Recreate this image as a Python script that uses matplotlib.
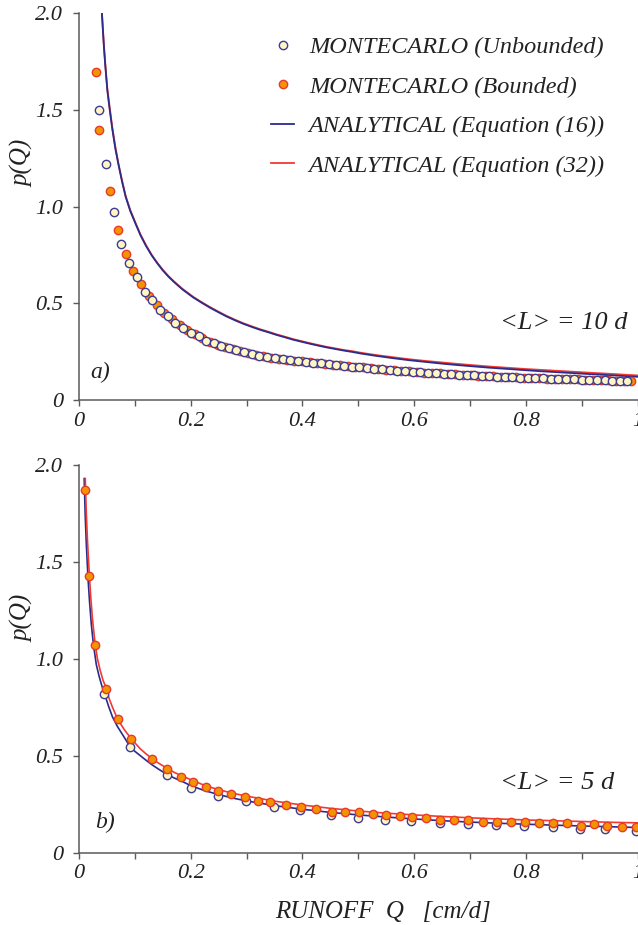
import numpy as np
import matplotlib
matplotlib.use("Agg")
import matplotlib.pyplot as plt

plt.rcParams['font.family'] = ['Liberation Serif', 'DejaVu Serif']
plt.rcParams['font.style'] = 'italic'

# --- panel a) <L> = 10 d ---
qa_unb = [0.035, 0.049, 0.063, 0.076, 0.090, 0.104, 0.118, 0.131, 0.145, 0.159,
          0.172, 0.186, 0.200, 0.214, 0.227, 0.241, 0.255, 0.268, 0.282, 0.296,
          0.310, 0.323, 0.337, 0.351, 0.365, 0.378, 0.392, 0.406, 0.419, 0.433,
          0.447, 0.461, 0.474, 0.488, 0.502, 0.515, 0.529, 0.543, 0.557, 0.570,
          0.584, 0.598, 0.611, 0.625, 0.639, 0.653, 0.666, 0.680, 0.694, 0.707,
          0.721, 0.735, 0.749, 0.762, 0.776, 0.790, 0.804, 0.817, 0.831, 0.845,
          0.858, 0.872, 0.886, 0.900, 0.913, 0.927, 0.941, 0.954, 0.968, 0.982]
pa_unb = [1.50, 1.22, 0.97, 0.805, 0.708, 0.636, 0.558, 0.515, 0.467, 0.436,
          0.400, 0.374, 0.348, 0.331, 0.305, 0.293, 0.277, 0.267, 0.256, 0.246,
          0.238, 0.229, 0.222, 0.215, 0.210, 0.206, 0.202, 0.197, 0.193, 0.189,
          0.185, 0.181, 0.177, 0.173, 0.169, 0.166, 0.162, 0.158, 0.155, 0.152,
          0.149, 0.146, 0.143, 0.141, 0.138, 0.136, 0.133, 0.131, 0.129, 0.127,
          0.125, 0.123, 0.121, 0.119, 0.118, 0.116, 0.115, 0.113, 0.112, 0.110,
          0.109, 0.108, 0.106, 0.105, 0.104, 0.103, 0.102, 0.100, 0.099, 0.098]

qa_bnd = [0.030, 0.0364, 0.056, 0.070, 0.084, 0.097, 0.111, 0.125, 0.139, 0.152,
          0.166, 0.180, 0.193, 0.207, 0.221, 0.234, 0.248, 0.262, 0.276, 0.289,
          0.303, 0.317, 0.330, 0.344, 0.358, 0.372, 0.385, 0.399, 0.413, 0.426,
          0.440, 0.454, 0.468, 0.481, 0.495, 0.509, 0.522, 0.536, 0.550, 0.564,
          0.577, 0.591, 0.605, 0.618, 0.632, 0.646, 0.660, 0.673, 0.687, 0.701,
          0.714, 0.728, 0.742, 0.756, 0.769, 0.783, 0.797, 0.810, 0.824, 0.838,
          0.852, 0.865, 0.879, 0.893, 0.906, 0.920, 0.934, 0.948, 0.961, 0.975,
          0.989]
pa_bnd = [1.695, 1.397, 1.078, 0.879, 0.756, 0.667, 0.597, 0.537, 0.490, 0.452,
          0.418, 0.387, 0.362, 0.340, 0.318, 0.300, 0.285, 0.272, 0.261, 0.251,
          0.242, 0.234, 0.226, 0.219, 0.213, 0.208, 0.204, 0.200, 0.195, 0.191,
          0.187, 0.183, 0.179, 0.175, 0.171, 0.168, 0.164, 0.160, 0.157, 0.154,
          0.151, 0.148, 0.145, 0.142, 0.140, 0.137, 0.135, 0.132, 0.130, 0.128,
          0.126, 0.124, 0.122, 0.120, 0.119, 0.117, 0.116, 0.114, 0.113, 0.111,
          0.110, 0.108, 0.107, 0.106, 0.105, 0.104, 0.102, 0.101, 0.100, 0.099,
          0.098]

qa_eq = [0.041, 0.043, 0.0447, 0.047, 0.0507, 0.055, 0.0596, 0.065, 0.0704, 0.077,
         0.0835, 0.092, 0.1014, 0.110, 0.120, 0.130, 0.140, 0.150, 0.160, 0.170,
         0.185, 0.2045, 0.220, 0.234, 0.250, 0.264, 0.280, 0.294, 0.310, 0.324,
         0.340, 0.354, 0.370, 0.383, 0.400, 0.413, 0.430, 0.443, 0.460, 0.473,
         0.490, 0.503, 0.530, 0.560, 0.590, 0.620, 0.650, 0.676, 0.705, 0.735,
         0.765, 0.795, 0.825, 0.855, 0.885, 0.914, 0.940, 0.970, 1.000]
pa_eq16 = [2.00, 1.90, 1.82, 1.73, 1.60, 1.50, 1.40, 1.30, 1.22, 1.13,
           1.05, 0.975, 0.910, 0.852, 0.796, 0.748, 0.707, 0.670, 0.638, 0.610,
           0.572, 0.530, 0.502, 0.478, 0.453, 0.432, 0.411, 0.394, 0.377, 0.363,
           0.349, 0.336, 0.323, 0.312, 0.300, 0.291, 0.280, 0.272, 0.263, 0.256,
           0.248, 0.241, 0.229, 0.217, 0.206, 0.197, 0.188, 0.181, 0.174, 0.167,
           0.161, 0.155, 0.149, 0.144, 0.139, 0.134, 0.130, 0.125, 0.120]
pa_eq32 = [2.00, 1.91, 1.83, 1.74, 1.61, 1.51, 1.41, 1.31, 1.225, 1.135,
           1.055, 0.980, 0.914, 0.856, 0.800, 0.751, 0.710, 0.673, 0.641, 0.613,
           0.575, 0.533, 0.505, 0.481, 0.456, 0.435, 0.414, 0.397, 0.380, 0.366,
           0.352, 0.339, 0.326, 0.315, 0.303, 0.294, 0.283, 0.275, 0.266, 0.259,
           0.252, 0.245, 0.233, 0.222, 0.211, 0.202, 0.194, 0.187, 0.180, 0.173,
           0.167, 0.161, 0.156, 0.151, 0.146, 0.141, 0.137, 0.132, 0.127]

# --- panel b) <L> = 5 d ---
qb_unb = [0.0456, 0.0907, 0.157, 0.201, 0.249, 0.299, 0.350, 0.396, 0.452, 0.500,
          0.548, 0.595, 0.647, 0.696, 0.747, 0.797, 0.848, 0.897, 0.941, 0.998]
pb_unb = [0.819, 0.547, 0.399, 0.335, 0.294, 0.267, 0.237, 0.220, 0.195, 0.180,
          0.170, 0.161, 0.151, 0.146, 0.142, 0.137, 0.132, 0.120, 0.121, 0.113]

qb_bnd = [0.0108, 0.0186, 0.0288, 0.0486, 0.069, 0.093, 0.130, 0.158, 0.182, 0.204,
          0.227, 0.249, 0.273, 0.297, 0.321, 0.342, 0.370, 0.398, 0.425, 0.453,
          0.477, 0.501, 0.526, 0.549, 0.574, 0.597, 0.622, 0.647, 0.672, 0.697,
          0.724, 0.748, 0.773, 0.798, 0.823, 0.848, 0.874, 0.899, 0.922, 0.946,
          0.973, 0.997]
pb_bnd = [1.869, 1.426, 1.071, 0.846, 0.691, 0.585, 0.482, 0.432, 0.389, 0.365,
          0.339, 0.320, 0.301, 0.287, 0.268, 0.262, 0.246, 0.237, 0.224, 0.212,
          0.208, 0.211, 0.200, 0.193, 0.191, 0.184, 0.179, 0.170, 0.167, 0.169,
          0.158, 0.158, 0.158, 0.158, 0.151, 0.152, 0.151, 0.137, 0.148, 0.137,
          0.134, 0.130]

qb_eq16 = [0.0093, 0.0110, 0.0130, 0.0150, 0.0165, 0.0190, 0.0220, 0.0245, 0.0270, 0.0310,
           0.0360, 0.0410, 0.0456, 0.0530, 0.0600, 0.0690, 0.0800, 0.0907, 0.100, 0.110,
           0.120, 0.130, 0.143, 0.157, 0.170, 0.183, 0.201, 0.225, 0.250, 0.275,
           0.300, 0.350, 0.400, 0.450, 0.500, 0.550, 0.600, 0.650, 0.700, 0.750,
           0.800, 0.850, 0.900, 0.950, 1.000]
pb_eq16 = [1.93, 1.75, 1.60, 1.48, 1.40, 1.29, 1.18, 1.11, 1.05, 0.97,
           0.91, 0.86, 0.82, 0.755, 0.70, 0.65, 0.60, 0.55, 0.523, 0.50,
           0.477, 0.455, 0.430, 0.405, 0.386, 0.370, 0.345, 0.320, 0.300, 0.282,
           0.267, 0.243, 0.224, 0.208, 0.195, 0.184, 0.174, 0.165, 0.158, 0.152,
           0.147, 0.142, 0.138, 0.134, 0.130]

qb_eq32 = [0.0112, 0.0130, 0.0150, 0.0168, 0.0186, 0.0210, 0.0240, 0.0265, 0.0288, 0.0330,
           0.0380, 0.0430, 0.0486, 0.0540, 0.0600, 0.0690, 0.0810, 0.0930, 0.100, 0.110,
           0.120, 0.130, 0.143, 0.158, 0.170, 0.183, 0.204, 0.225, 0.250, 0.275,
           0.300, 0.350, 0.400, 0.450, 0.500, 0.550, 0.600, 0.650, 0.700, 0.750,
           0.800, 0.850, 0.900, 0.950, 1.000]
pb_eq32 = [1.93, 1.76, 1.62, 1.52, 1.43, 1.32, 1.21, 1.14, 1.08, 1.00,
           0.94, 0.89, 0.85, 0.795, 0.75, 0.69, 0.635, 0.59, 0.567, 0.535,
           0.510, 0.487, 0.461, 0.435, 0.415, 0.398, 0.372, 0.347, 0.325, 0.307,
           0.292, 0.266, 0.246, 0.229, 0.215, 0.204, 0.195, 0.187, 0.180, 0.174,
           0.169, 0.165, 0.161, 0.157, 0.154]

x_ticks = [0, 0.1, 0.2, 0.3, 0.4, 0.5, 0.6, 0.7, 0.8, 0.9, 1.0]
x_ticklabels = ['0', '', '0.2', '', '0.4', '', '0.6', '', '0.8', '', '1']
y_ticks = [0, 0.5, 1.0, 1.5, 2.0]
y_ticklabels = ['0', '0.5', '1.0', '1.5', '2.0']

BLUE = '#2b2b8c'
RED = '#f03a32'
CREAM = '#fff6c2'
ORANGE = '#f29400'
AXCOL = '#5a5a5a'

unb_style = dict(ls='none', marker='o', ms=6.0, mfc=CREAM, mec='#3c3c98', mew=1.0)
bnd_style = dict(ls='none', marker='o', ms=6.0, mfc=ORANGE, mec='#e83a2a', mew=1.0)

fig = plt.figure(figsize=(6.38, 9.25), dpi=100)
ax1 = fig.add_axes([79 / 638, 1 - 400 / 925, 558.5 / 638, 387 / 925])
ax2 = fig.add_axes([79 / 638, 1 - 852.7 / 925, 558.5 / 638, 387.7 / 925])


def style_axes(ax, xpad):
    ax.set_xlim(0, 1)
    ax.set_ylim(0, 2)
    for side in ['top', 'right']:
        ax.spines[side].set_visible(False)
    for side in ['left', 'bottom']:
        ax.spines[side].set_color(AXCOL)
        ax.spines[side].set_linewidth(1.1)
    ax.set_xticks(x_ticks)
    ax.set_xticklabels(x_ticklabels)
    ax.set_yticks(y_ticks)
    ax.set_yticklabels(y_ticklabels)
    ax.tick_params(axis='both', direction='out', length=4, width=1.0,
                   color=AXCOL, labelsize=16, labelcolor='#222222')
    ax.tick_params(axis='x', pad=xpad)
    ax.tick_params(axis='y', pad=7.5)
    ax.set_ylabel('p(Q)', fontsize=18, color='#222222')


# panel a
h_r, = ax1.plot(qa_eq, pa_eq32, color=RED, lw=1.3, zorder=2,
                label='ANALYTICAL (Equation (32))')
h_b, = ax1.plot(qa_eq, pa_eq16, color=BLUE, lw=1.3, zorder=2.5,
                label='ANALYTICAL (Equation (16))')
h_o, = ax1.plot(qa_bnd, pa_bnd, zorder=3, label='MONTECARLO (Bounded)', **bnd_style)
h_y, = ax1.plot(qa_unb, pa_unb, zorder=4, label='MONTECARLO (Unbounded)', **unb_style)
style_axes(ax1, 5)
ax1.yaxis.set_label_coords(-0.079, 0.612)
ax1.text(0.038, 0.07, 'a)', transform=ax1.transAxes, fontsize=17,
         ha='center', va='center', color='#222222')
ax1.text(0.754, 0.199, '<L> = 10 d', transform=ax1.transAxes, fontsize=19,
         ha='left', va='center', color='#222222')

leg = ax1.legend([h_y, h_o, h_b, h_r],
                 [h.get_label() for h in [h_y, h_o, h_b, h_r]],
                 loc='upper left', bbox_to_anchor=(0.344, 0.940),
                 frameon=False, fontsize=17.5, handlelength=0.95,
                 handletextpad=0.6, labelspacing=0.72, borderpad=0,
                 borderaxespad=0)
for t in leg.get_texts():
    t.set_color('#222222')

# panel b
ax2.plot(qb_eq16, pb_eq16, color=BLUE, lw=1.2, zorder=2)
ax2.plot(qb_eq32, pb_eq32, color=RED, lw=1.2, zorder=2.5)
ax2.plot(qb_unb, pb_unb, zorder=3, **unb_style)
ax2.plot(qb_bnd, pb_bnd, zorder=4, **bnd_style)
style_axes(ax2, 4)
ax2.yaxis.set_label_coords(-0.079, 0.605)
ax2.text(0.047, 0.079, 'b)', transform=ax2.transAxes, fontsize=17,
         ha='center', va='center', color='#222222')
ax2.text(0.754, 0.18, '<L> = 5 d', transform=ax2.transAxes, fontsize=19,
         ha='left', va='center', color='#222222')

fig.text(383 / 638, 1 - 912 / 925, 'RUNOFF  Q   [cm/d]', fontsize=18,
         ha='center', va='center', color='#222222')

fig.savefig('out.png', dpi=100)
